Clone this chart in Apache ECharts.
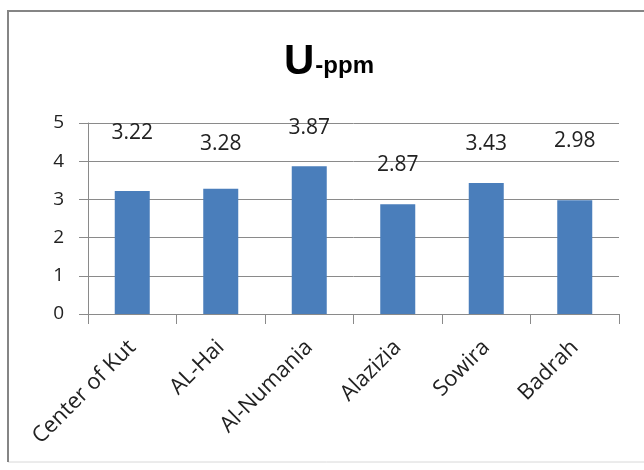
<!DOCTYPE html>
<html>
<head>
	<meta charset="utf-8" />
	<title>U-ppm</title>
	<script src="https://cdn.jsdelivr.net/npm/echarts@6/dist/echarts.min.js"></script>
	<style>
		html, body { margin: 0; padding: 0; background: #fff; }
	</style>
</head>
<body>
	<div id="main" style="width: 644px;height: 470px;"></div>

	<script type="text/javascript">
		// data
		var places = ['Center of Kut', 'AL-Hai', 'Al-Numania', 'Alazizia', 'Sowira', 'Badrah'];
		var uPpm = [3.22, 3.28, 3.87, 2.87, 3.43, 2.98];
		var yTicks = [0, 1, 2, 3, 4, 5];

		// how far each value label floats above its bar (px)
		var labelGap = [47, 34, 28, 29, 28, 49];

		var myChart = echarts.init(document.getElementById("main"));

		var barData = [];
		for (var i = 0; i < uPpm.length; i++) {
			barData.push({
				value: uPpm[i],
				label: { distance: labelGap[i] }
			});
		}

		var option = {
			animation: false,
			backgroundColor: '#fff',
			graphic: [{
				type: 'rect',
				shape: { x: 8, y: 11, width: 660, height: 451 },
				style: { fill: 'none', stroke: '#d8d8d8', lineWidth: 1 },
				silent: true
			}, {
				// darker top and left edges of the frame
				type: 'polyline',
				shape: { points: [[8, 462], [8, 11], [644, 11]] },
				style: { fill: 'none', stroke: '#858585', lineWidth: 2 },
				silent: true
			}],
			title: {
				text: '{u|U}{p|-ppm}',
				left: 279,
				top: 36,
				textStyle: {
					rich: {
						u: { fontFamily: 'Liberation Sans', fontWeight: 'bold', fontSize: 42, color: '#000', verticalAlign: 'bottom' },
						p: { fontFamily: 'Liberation Sans', fontWeight: 'bold', fontSize: 24, color: '#000', verticalAlign: 'bottom', padding: [0, 0, 5, 1] }
					}
				}
			},
			grid: {
				left: 88,
				right: 25,
				top: 123,
				bottom: 156
			},
			xAxis: {
				type: 'category',
				data: places,
				boundaryGap: true,
				axisLine: { lineStyle: { color: '#8a8a8a', width: 1 } },
				axisTick: { show: true, length: 10, lineStyle: { color: '#8a8a8a' } },
				axisLabel: {
					interval: 0,
					rotate: 45,
					margin: 30,
					fontFamily: 'Open Sans',
					fontSize: 22,
					color: '#222'
				}
			},
			yAxis: {
				type: 'value',
				min: yTicks[0],
				max: yTicks[yTicks.length - 1],
				interval: 1,
				axisLine: { show: true, lineStyle: { color: '#8a8a8a', width: 1 } },
				axisTick: { show: true, length: 9, lineStyle: { color: '#8a8a8a' } },
				splitLine: { show: true, lineStyle: { color: '#8a8a8a', width: 1 } },
				axisLabel: {
					margin: 24,
					fontFamily: 'Open Sans',
					fontSize: 19,
					color: '#222'
				}
			},
			series: [{
				type: 'bar',
				data: barData,
				barWidth: 35,
				itemStyle: { color: '#4a7ebb' },
				label: {
					show: true,
					position: 'top',
					fontFamily: 'Open Sans',
					fontSize: 21,
					color: '#222'
				}
			}]
		};

		myChart.setOption(option);
	</script>
</body>
</html>
